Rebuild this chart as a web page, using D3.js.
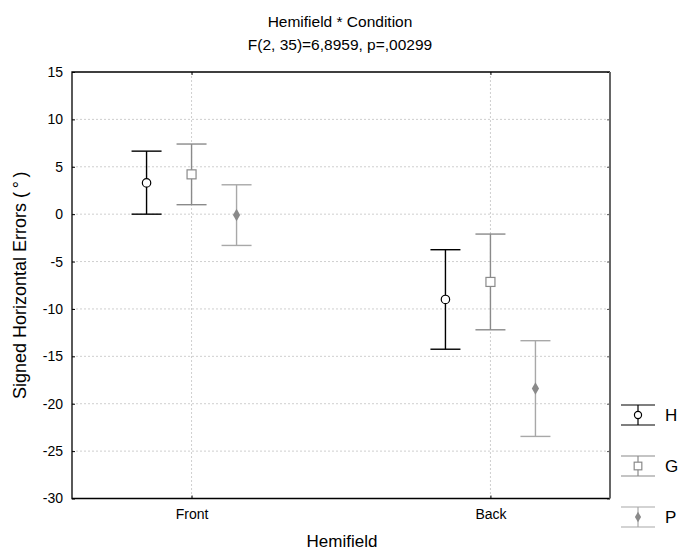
<!DOCTYPE html>
<html><head><meta charset="utf-8">
<script src="https://cdn.jsdelivr.net/npm/d3@7"></script>
<style>body{margin:0;background:#fff}text{font-family:Arial,"Liberation Sans",sans-serif}</style>
</head><body><svg id="c" width="680" height="551"></svg>
<script>
const categories = ["Front", "Back"];
const seriesNames = ["H", "G", "P"];
const means = { H: [3.3, -9.0], G: [4.2, -7.15], P: [-0.1, -18.4] };
const upper = { H: [6.65, -3.75], G: [7.4, -2.1], P: [3.1, -13.35] };
const lower = { H: [0.0, -14.25], G: [1.0, -12.2], P: [-3.3, -23.45] };
const yTicks = [15, 10, 5, 0, -5, -10, -15, -20, -25, -30];

const svg = d3.select("#c");
const L = 72, R = 610, T = 72, B = 498.5;
const x = d3.scalePoint().domain(categories).range([L, R]).padding(0.4);
const off = d3.scalePoint().domain(seriesNames).range([-45, 45]);
const y = d3.scaleLinear().domain([-30, 15]).range([B, T]);
const stroke = { H: "#000", G: "#8a8a8a", P: "#a8a8a8" };

// grid
const g = svg.append("g");
g.selectAll(".gy").data(yTicks.slice(1, -1)).join("line")
  .attr("x1", L).attr("x2", R).attr("y1", d => y(d)).attr("y2", d => y(d))
  .attr("stroke", "#cfcfcf").attr("stroke-dasharray", "2,2");
g.selectAll(".gx").data(categories).join("line")
  .attr("x1", d => x(d)).attr("x2", d => x(d)).attr("y1", T).attr("y2", B)
  .attr("stroke", "#cfcfcf").attr("stroke-dasharray", "2,2");

// axes
const yAx = svg.append("g").attr("transform", `translate(${L},0)`)
  .call(d3.axisLeft(y).tickValues(yTicks).tickSize(-3).tickPadding(9).tickFormat(d => String(d)));
yAx.select(".domain").remove();
yAx.selectAll("line").attr("stroke", "#000");
yAx.selectAll("text").attr("font-size", 14).attr("fill", "#000");
const yAxR = svg.append("g").attr("transform", `translate(${R},0)`)
  .call(d3.axisRight(y).tickValues(yTicks).tickSize(-3).tickFormat(""));
yAxR.select(".domain").remove();
yAxR.selectAll("line").attr("stroke", "#555");
const xAx = svg.append("g").attr("transform", `translate(0,${B})`)
  .call(d3.axisBottom(x).tickSize(-3).tickPadding(11));
xAx.select(".domain").remove();
xAx.selectAll("text").attr("font-size", 14).attr("fill", "#000");
xAx.selectAll("line").attr("stroke", "#000");
const xAxT = svg.append("g").attr("transform", `translate(0,${T})`)
  .call(d3.axisTop(x).tickSize(-3).tickFormat(""));
xAxT.select(".domain").remove();
xAxT.selectAll("line").attr("stroke", "#000");

// frame
svg.append("path").attr("d", `M${R},${T}H${L}V${B}H${R}`).attr("fill", "none").attr("stroke", "#000").attr("stroke-width", 1.3);
svg.append("line").attr("x1", R).attr("x2", R).attr("y1", T).attr("y2", B).attr("stroke", "#666").attr("stroke-width", 2);

function marker(sel, s, cx, cy, sc) {
  if (s === "H") sel.append("circle").attr("cx", cx).attr("cy", cy).attr("r", 4.2 * sc).attr("fill", "#fff").attr("stroke", "#000").attr("stroke-width", 1.2);
  else if (s === "G") sel.append("rect").attr("x", cx - 4.5 * sc).attr("y", cy - 4.5 * sc).attr("width", 9 * sc).attr("height", 9 * sc).attr("fill", "#fff").attr("stroke", "#8a8a8a").attr("stroke-width", 1.2);
  else sel.append("path").attr("d", d3.symbol(d3.symbolDiamond, 45 * sc * sc)()).attr("transform", `translate(${cx},${cy})`).attr("fill", "#8a8a8a");
}

// error bars
seriesNames.forEach(s => {
  const gs = svg.append("g");
  categories.forEach((c, i) => {
    const cx = x(c) + off(s);
    gs.append("line").attr("x1", cx).attr("x2", cx).attr("y1", y(upper[s][i])).attr("y2", y(lower[s][i])).attr("stroke", stroke[s]).attr("stroke-width", 1.4);
    [upper[s][i], lower[s][i]].forEach(v => gs.append("line").attr("x1", cx - 15).attr("x2", cx + 15).attr("y1", y(v)).attr("y2", y(v)).attr("stroke", stroke[s]).attr("stroke-width", 1.4));
    marker(gs, s, cx, y(means[s][i]), 1);
  });
});

// legend
seriesNames.forEach((s, i) => {
  const cy = 415 + i * 51;
  const lg = svg.append("g");
  lg.append("line").attr("x1", 638).attr("x2", 638).attr("y1", cy - 10).attr("y2", cy + 10).attr("stroke", stroke[s]).attr("stroke-width", 1.2);
  [cy - 10, cy + 10].forEach(yy => lg.append("line").attr("x1", 621).attr("x2", 655).attr("y1", yy).attr("y2", yy).attr("stroke", stroke[s]).attr("stroke-width", 1.2));
  marker(lg, s, 638, cy, 0.85);
  lg.append("text").attr("x", 665).attr("y", cy + 6).attr("font-size", 17).text(s);
});

// titles
svg.append("text").attr("x", 340).attr("y", 27).attr("text-anchor", "middle").attr("font-size", 15.5).text("Hemifield * Condition");
svg.append("text").attr("x", 340).attr("y", 50).attr("text-anchor", "middle").attr("font-size", 15.5).text("F(2, 35)=6,8959, p=,00299");
svg.append("text").attr("x", (L + R) / 2 + 1).attr("y", 547).attr("text-anchor", "middle").attr("font-size", 17).text("Hemifield");
svg.append("text").attr("transform", `translate(26,${(T + B) / 2}) rotate(-90)`).attr("text-anchor", "middle").attr("font-size", 18).text("Signed Horizontal Errors (\u2009°\u2009)");
</script></body></html>
